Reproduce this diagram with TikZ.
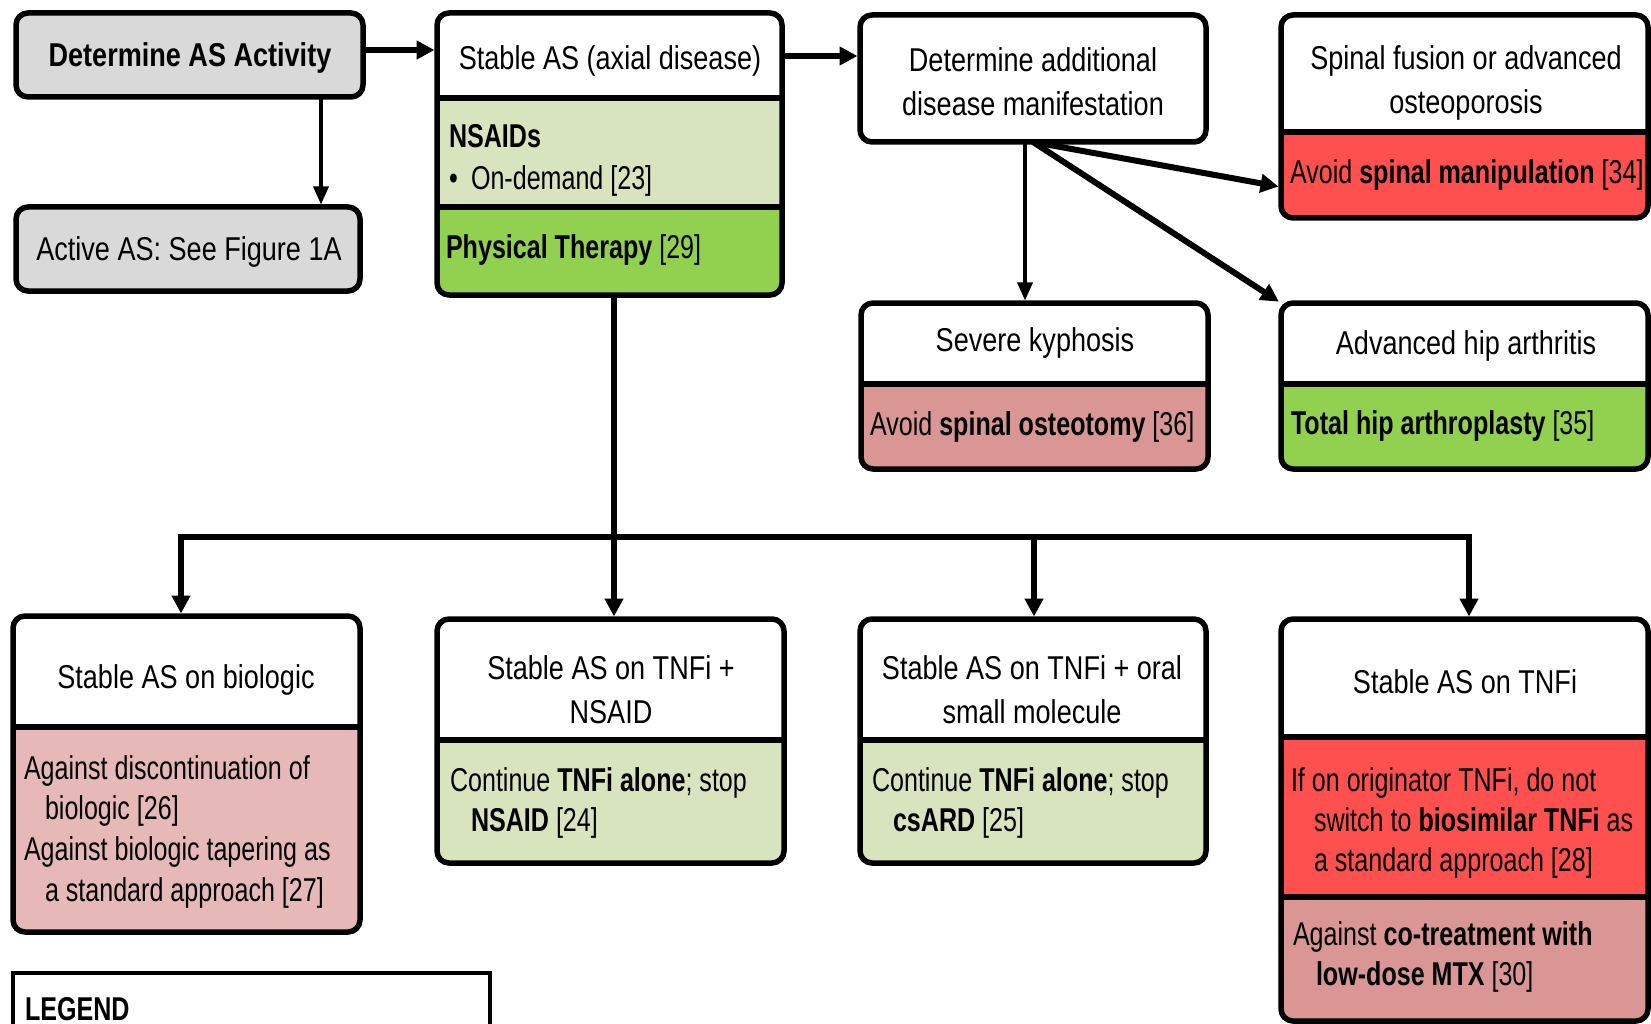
\documentclass[tikz,border=0pt]{standalone}
\usepackage{fontspec}
\setmainfont{Liberation Sans}[FakeStretch=0.82]
\newfontfamily\bodyfont{Liberation Sans}[FakeStretch=0.76]
\usetikzlibrary{arrows.meta,fit}
\definecolor{cgray}{HTML}{D9D9D9}
\definecolor{clgreen}{HTML}{D7E4BD}
\definecolor{cgreen}{HTML}{92D050}
\definecolor{cred}{HTML}{FF5050}
\definecolor{cpink}{HTML}{E6B9B8}
\definecolor{csalmon}{HTML}{D99694}
\newcommand\mysect[3]{\fill[#1] (0,#2) rectangle (1700,#3);}
\newcommand\mydiv[3]{\draw[divline] (#1,#3) -- (#2,#3);}
\newcommand\mypanel[6]{%
  \node[fit={(#2,#3)(#4,#5)}, inner sep=0pt, outer sep=0pt] (#1) {};
  \begin{scope}
    \clip[rounded corners=12pt] (#2,#3) rectangle (#4,#5);
    \fill[white] (#2,#3) rectangle (#4,#5);
    #6
  \end{scope}
  \draw[boxline] (#2,#3) rectangle (#4,#5);
}
\begin{document}
\begin{tikzpicture}[x=1pt,y=-1pt,
  boxline/.style={line width=5.5pt, rounded corners=12pt, line join=round},
  divline/.style={line width=5.5pt},
  txt/.style={inner sep=0pt, outer sep=0pt, font=\fontsize{33}{40}\selectfont},
  bt/.style={inner sep=0pt, outer sep=0pt, font=\fontsize{33}{40}\bodyfont},
  tl/.style={bt, anchor=base west},
  tc/.style={txt, anchor=base},
  conn/.style={line width=6pt, shorten >=2.5pt, -{Triangle[length=18pt,width=18pt]}},
  connthin/.style={line width=3.5pt, shorten >=2.5pt, -{Triangle[length=18pt,width=15pt]}},
  ]
\clip (0,0) rectangle (1651,1024);
\fill[white] (0,0) rectangle (1651,1024);

% panels
\mypanel{det}{16}{13}{363}{97}{\mysect{cgray}{0}{1100}}
\mypanel{active}{16}{207}{360}{291}{\mysect{cgray}{0}{1100}}
\mypanel{stable}{437}{13}{782}{295}{\mysect{clgreen}{98}{207}\mysect{cgreen}{207}{1100}}
\mydiv{437}{782}{98}\mydiv{437}{782}{207}
\mypanel{add}{860}{15}{1206}{142}{}
\mypanel{spinal}{1281}{15}{1648}{218}{\mysect{cred}{132}{1100}}
\mydiv{1281}{1648}{132}
\mypanel{kyph}{861}{303}{1208}{469}{\mysect{csalmon}{384}{1100}}
\mydiv{861}{1208}{384}
\mypanel{hip}{1281}{303}{1648}{469}{\mysect{cgreen}{384}{1100}}
\mydiv{1281}{1648}{384}
\mypanel{bio}{13}{616}{360}{932}{\mysect{cpink}{727}{1100}}
\mydiv{13}{360}{727}
\mypanel{nsaid}{437}{619}{784}{863}{\mysect{clgreen}{740}{1100}}
\mydiv{437}{784}{740}
\mypanel{oral}{860}{619}{1206}{863}{\mysect{clgreen}{740}{1100}}
\mydiv{860}{1206}{740}
\mypanel{tnfi}{1281}{619}{1648}{1021}{\mysect{cred}{737}{897}\mysect{csalmon}{897}{1100}}
\mydiv{1281}{1648}{737}\mydiv{1281}{1648}{897}
\node[fit={(13,973)(490,1060)}, draw, line width=4pt, inner sep=0pt] (legend) {};

% texts
\node[tc] (t1) at (190,67) {\bfseries Determine AS Activity};
\node[tc] (t2) at (189,261) {Active AS: See Figure 1A};
\node[tc] (t3) at (610,70) {Stable AS (axial disease)};
\node[tl] (t4) at (449,148) {\bfseries NSAIDs};
\node[tl] (t5a) at (449,190) {\textbullet};
\node[tl] (t5) at (471,190) {On-demand [23]};
\node[tl] (t6) at (446,259) {\textbf{Physical Therapy} [29]};
\node[tc] (t7) at (1033,72) {Determine additional};
\node[tc] (t8) at (1033,116) {disease manifestation};
\node[tc] (t9) at (1466,70) {Spinal fusion or advanced};
\node[tc] (t10) at (1466,114) {osteoporosis};
\node[tl] (t11) at (1290,184) {Avoid \textbf{spinal manipulation} [34]};
\node[tc] (t12) at (1035,351) {Severe kyphosis};
\node[tl] (t13) at (870,435) {Avoid \textbf{spinal osteotomy} [36]};
\node[tc] (t14) at (1466,354) {Advanced hip arthritis};
\node[tl] (t15) at (1291,434) {\textbf{Total hip arthroplasty} [35]};
\node[tc] (t16) at (186,688) {Stable AS on biologic};
\node[tl] (t17) at (24,779) {Against discontinuation of};
\node[tl] (t18) at (45,819) {biologic [26]};
\node[tl] (t19) at (24,860) {Against biologic tapering as};
\node[tl] (t20) at (45,901) {a standard approach [27]};
\node[tc] (t21) at (611,679) {Stable AS on TNFi +};
\node[tc] (t22) at (611,723) {NSAID};
\node[tl] (t23) at (450,791) {Continue \textbf{TNFi alone}; stop};
\node[tl] (t24) at (471,831) {\textbf{NSAID} [24]};
\node[tc] (t25) at (1032,679) {Stable AS on TNFi + oral};
\node[tc] (t26) at (1032,723) {small molecule};
\node[tl] (t27) at (872,791) {Continue \textbf{TNFi alone}; stop};
\node[tl] (t28) at (893,831) {\textbf{csARD} [25]};
\node[tc] (t29) at (1465,693) {Stable AS on TNFi};
\node[tl] (t30) at (1291,791) {If on originator TNFi, do not};
\node[tl] (t31) at (1314,831) {switch to \textbf{biosimilar TNFi} as};
\node[tl] (t32) at (1314,871) {a standard approach [28]};
\node[tl] (t33) at (1293,945) {Against \textbf{co-treatment with}};
\node[tl] (t34) at (1316,985) {\textbf{low-dose MTX} [30]};
\node[tl] (t35) at (25,1020) {\bfseries LEGEND};

% connectors
\coordinate (ya) at (0,50);
\draw[conn] (det.east |- ya) -- (stable.west |- ya);
\coordinate (xa) at (321,0);
\draw[connthin] (det.south -| xa) -- (active.north -| xa);
\coordinate (yb) at (0,56);
\draw[conn] (stable.east |- yb) -- (add.west |- yb);
\coordinate (xk) at (1025,0);
\draw[connthin] (add.south -| xk) -- (kyph.north -| xk);
\coordinate (ysp) at (0,187);
\draw[conn] (add.south) -- (spinal.west |- ysp);
\draw[conn] (add.south) -- (hip.north west);
\coordinate (jn) at (614,537);
\coordinate (jl) at (181,537);
\coordinate (jo) at (1034,537);
\coordinate (jr) at (1469,537);
\draw[line width=6pt] (stable.south -| jn) -- (jn);
\draw[conn] (jn) -| (bio.north -| jl);
\draw[conn] (jn) -| (tnfi.north -| jr);
\draw[conn] (jn) -- (nsaid.north -| jn);
\draw[conn] (jo) -- (oral.north -| jo);
\end{tikzpicture}
\end{document}
